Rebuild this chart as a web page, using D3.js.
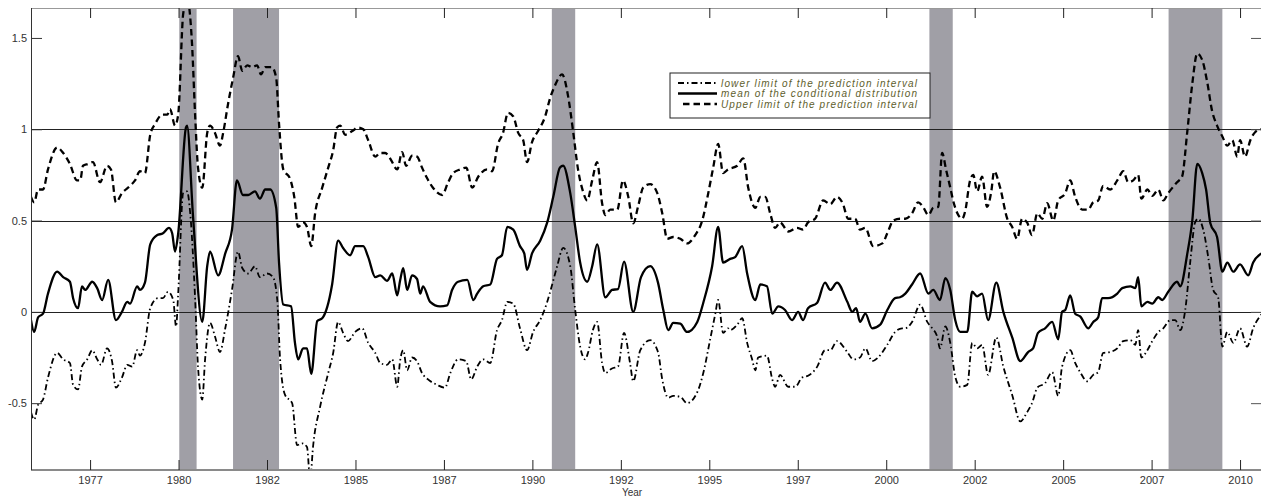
<!DOCTYPE html>
<html>
<head>
<meta charset="utf-8">
<script src="https://cdn.jsdelivr.net/npm/d3@7"></script>
<style>
  body { margin: 0; background: #fff; }
  text { font-family: "Liberation Sans", Arial, sans-serif; }
</style>
</head>
<body>
<div></div>
<script>
var width = 1261, height = 498;

// recession periods (decimal years)
var recessions = [[1980.02, 1980.51], [1981.54, 1982.84], [1990.55, 1991.21], [2001.22, 2001.88], [2007.98, 2009.50]];

// tick positions and labels
var xTicks = [1977.5, 1980, 1982.5, 1985, 1987.5, 1990, 1992.5, 1995, 1997.5, 2000, 2002.5, 2005, 2007.5, 2010];
var xTickLabels = ["1977", "1980", "1982", "1985", "1987", "1990", "1992", "1995", "1997", "2000", "2002", "2005", "2007", "2010"];
var yTicks = [-0.5, 0, 0.5, 1, 1.5];
var yTickLabels = ["-0.5", "0", "0.5", "1", "1.5"];
var gridValues = [0, 0.5, 1];

var legendLabels = ["lower limit of the prediction interval", "mean of the conditional distribution", "Upper limit of the prediction interval"];

// mean of the conditional distribution [year, value]
var meanSeries = [[1975.83,-0.045],[1975.92,-0.11],[1976.03,-0.03],[1976.17,-0.01],[1976.31,0.10],[1976.57,0.22],[1976.74,0.19],[1976.93,0.165],[1977.02,0.075],[1977.16,0.02],[1977.27,0.14],[1977.36,0.12],[1977.56,0.165],[1977.70,0.13],[1977.84,0.065],[1978.01,0.175],[1978.23,-0.045],[1978.40,0.0],[1978.55,0.055],[1978.63,0.045],[1978.83,0.14],[1978.91,0.12],[1979.05,0.16],[1979.20,0.37],[1979.39,0.42],[1979.56,0.43],[1979.73,0.46],[1979.82,0.43],[1979.90,0.33],[1979.99,0.43],[1980.21,1.01],[1980.24,1.02],[1980.41,0.52],[1980.67,-0.055],[1980.81,0.25],[1980.89,0.33],[1981.12,0.20],[1981.32,0.32],[1981.51,0.45],[1981.65,0.72],[1981.82,0.64],[1981.97,0.64],[1982.16,0.66],[1982.30,0.62],[1982.45,0.67],[1982.59,0.67],[1982.76,0.57],[1982.84,0.27],[1982.96,0.04],[1983.18,0.03],[1983.29,-0.17],[1983.38,-0.26],[1983.52,-0.20],[1983.63,-0.20],[1983.75,-0.34],[1983.92,-0.05],[1984.06,-0.035],[1984.34,0.15],[1984.51,0.39],[1984.65,0.35],[1984.85,0.31],[1984.99,0.36],[1985.22,0.36],[1985.36,0.30],[1985.56,0.19],[1985.70,0.20],[1985.89,0.17],[1986.04,0.21],[1986.18,0.09],[1986.26,0.17],[1986.35,0.24],[1986.46,0.12],[1986.60,0.20],[1986.74,0.18],[1986.83,0.10],[1986.91,0.14],[1987.11,0.055],[1987.39,0.03],[1987.59,0.035],[1987.73,0.12],[1987.90,0.165],[1988.16,0.175],[1988.33,0.065],[1988.44,0.10],[1988.61,0.14],[1988.81,0.15],[1989.00,0.29],[1989.14,0.31],[1989.29,0.465],[1989.46,0.45],[1989.65,0.36],[1989.77,0.32],[1989.85,0.23],[1989.99,0.32],[1990.22,0.39],[1990.42,0.49],[1990.59,0.63],[1990.78,0.79],[1990.87,0.80],[1991.07,0.65],[1991.21,0.465],[1991.35,0.27],[1991.55,0.165],[1991.69,0.25],[1991.83,0.37],[1992.06,0.08],[1992.25,0.12],[1992.42,0.125],[1992.59,0.275],[1992.85,0.0],[1993.07,0.19],[1993.33,0.25],[1993.55,0.16],[1993.70,0.01],[1993.84,-0.10],[1993.98,-0.06],[1994.18,-0.065],[1994.37,-0.11],[1994.66,-0.055],[1994.83,0.05],[1995.08,0.25],[1995.25,0.465],[1995.39,0.27],[1995.59,0.29],[1995.73,0.30],[1995.93,0.36],[1996.07,0.21],[1996.30,0.065],[1996.44,0.15],[1996.63,0.14],[1996.78,-0.01],[1996.95,0.03],[1997.14,0.01],[1997.34,-0.045],[1997.51,0.0],[1997.65,-0.045],[1997.79,0.02],[1998.05,0.05],[1998.27,0.16],[1998.42,0.12],[1998.61,0.16],[1998.90,0.055],[1999.04,0.0],[1999.15,0.02],[1999.26,-0.055],[1999.41,-0.01],[1999.60,-0.09],[1999.83,-0.07],[2000.03,0.01],[2000.25,0.075],[2000.39,0.08],[2000.54,0.10],[2000.73,0.15],[2000.96,0.21],[2001.19,0.10],[2001.33,0.12],[2001.52,0.065],[2001.67,0.185],[2001.81,0.12],[2001.95,-0.045],[2002.09,-0.11],[2002.29,-0.11],[2002.43,0.11],[2002.57,0.085],[2002.71,0.10],[2002.88,-0.045],[2003.11,0.16],[2003.31,0.0],[2003.56,-0.14],[2003.79,-0.27],[2004.01,-0.22],[2004.15,-0.20],[2004.29,-0.115],[2004.49,-0.09],[2004.69,-0.055],[2004.86,-0.15],[2004.97,0.0],[2005.06,0.01],[2005.20,0.09],[2005.34,-0.01],[2005.48,-0.025],[2005.71,-0.09],[2005.85,-0.055],[2005.99,-0.03],[2006.10,0.075],[2006.27,0.075],[2006.53,0.10],[2006.67,0.13],[2006.90,0.14],[2007.04,0.13],[2007.12,0.19],[2007.21,0.03],[2007.38,0.055],[2007.52,0.045],[2007.69,0.08],[2007.80,0.065],[2007.97,0.11],[2008.22,0.165],[2008.31,0.14],[2008.51,0.32],[2008.65,0.50],[2008.79,0.81],[2008.93,0.76],[2009.04,0.67],[2009.16,0.485],[2009.35,0.41],[2009.50,0.22],[2009.64,0.27],[2009.81,0.22],[2010.00,0.26],[2010.23,0.20],[2010.37,0.27],[2010.60,0.32]];

// upper limit of the prediction interval
var upperSeries = [[1975.83,0.63],[1975.92,0.60],[1976.03,0.67],[1976.17,0.67],[1976.31,0.78],[1976.57,0.90],[1976.74,0.87],[1976.93,0.81],[1977.13,0.72],[1977.22,0.72],[1977.30,0.80],[1977.44,0.81],[1977.58,0.82],[1977.78,0.71],[1977.98,0.80],[1978.09,0.78],[1978.23,0.60],[1978.40,0.65],[1978.63,0.69],[1978.77,0.72],[1978.91,0.77],[1979.05,0.76],[1979.20,0.97],[1979.34,1.03],[1979.54,1.08],[1979.68,1.08],[1979.76,1.11],[1979.90,1.02],[1979.99,1.08],[1980.13,1.63],[1980.24,1.72],[1980.38,1.47],[1980.47,1.07],[1980.55,0.79],[1980.67,0.68],[1980.81,0.98],[1980.89,1.02],[1981.03,0.98],[1981.17,0.91],[1981.26,0.98],[1981.40,1.14],[1981.54,1.28],[1981.68,1.40],[1981.80,1.32],[1981.94,1.35],[1982.08,1.34],[1982.22,1.35],[1982.33,1.30],[1982.45,1.34],[1982.64,1.34],[1982.76,1.28],[1982.84,1.03],[1982.96,0.78],[1983.15,0.73],[1983.27,0.63],[1983.38,0.465],[1983.52,0.49],[1983.63,0.465],[1983.75,0.36],[1983.86,0.54],[1984.06,0.68],[1984.23,0.79],[1984.37,0.885],[1984.48,1.01],[1984.57,1.02],[1984.71,0.97],[1984.91,0.99],[1985.07,1.01],[1985.22,1.0],[1985.36,0.94],[1985.56,0.85],[1985.70,0.87],[1985.84,0.87],[1985.98,0.84],[1986.18,0.78],[1986.32,0.875],[1986.43,0.80],[1986.60,0.855],[1986.74,0.85],[1986.88,0.79],[1987.03,0.73],[1987.19,0.68],[1987.45,0.64],[1987.62,0.71],[1987.76,0.76],[1987.96,0.78],[1988.13,0.79],[1988.30,0.68],[1988.47,0.74],[1988.72,0.78],[1988.86,0.77],[1989.03,0.92],[1989.17,0.98],[1989.31,1.09],[1989.46,1.07],[1989.60,0.98],[1989.74,0.94],[1989.85,0.82],[1989.99,0.93],[1990.16,0.99],[1990.36,1.07],[1990.50,1.17],[1990.64,1.24],[1990.84,1.30],[1991.01,1.18],[1991.15,0.99],[1991.29,0.78],[1991.43,0.66],[1991.55,0.61],[1991.69,0.72],[1991.83,0.82],[1991.97,0.595],[1992.06,0.53],[1992.20,0.56],[1992.40,0.56],[1992.56,0.72],[1992.71,0.63],[1992.85,0.485],[1992.99,0.58],[1993.13,0.68],[1993.33,0.70],[1993.53,0.65],[1993.67,0.54],[1993.81,0.40],[1993.98,0.41],[1994.18,0.40],[1994.37,0.375],[1994.60,0.42],[1994.80,0.50],[1994.97,0.65],[1995.11,0.79],[1995.25,0.92],[1995.39,0.76],[1995.53,0.78],[1995.79,0.80],[1995.96,0.84],[1996.10,0.68],[1996.30,0.57],[1996.44,0.63],[1996.58,0.63],[1996.72,0.54],[1996.86,0.46],[1997.00,0.49],[1997.23,0.44],[1997.48,0.46],[1997.65,0.45],[1997.79,0.49],[1997.99,0.51],[1998.22,0.61],[1998.42,0.59],[1998.61,0.63],[1998.78,0.59],[1998.92,0.51],[1999.12,0.51],[1999.26,0.45],[1999.41,0.46],[1999.63,0.36],[1999.89,0.375],[2000.03,0.43],[2000.20,0.50],[2000.39,0.51],[2000.54,0.51],[2000.73,0.54],[2000.90,0.60],[2001.04,0.575],[2001.19,0.53],[2001.33,0.57],[2001.47,0.575],[2001.58,0.87],[2001.69,0.78],[2001.81,0.68],[2001.89,0.61],[2002.01,0.54],[2002.15,0.51],[2002.23,0.55],[2002.37,0.72],[2002.46,0.75],[2002.57,0.66],[2002.71,0.74],[2002.85,0.575],[2002.97,0.66],[2003.05,0.77],[2003.22,0.68],[2003.42,0.51],[2003.56,0.465],[2003.70,0.40],[2003.84,0.51],[2003.98,0.49],[2004.12,0.42],[2004.27,0.54],[2004.41,0.51],[2004.55,0.595],[2004.72,0.50],[2004.86,0.61],[2005.06,0.65],[2005.20,0.72],[2005.34,0.63],[2005.54,0.56],[2005.71,0.56],[2005.85,0.60],[2005.99,0.61],[2006.13,0.69],[2006.33,0.67],[2006.53,0.72],[2006.70,0.77],[2006.84,0.71],[2006.98,0.72],[2007.12,0.75],[2007.21,0.62],[2007.38,0.67],[2007.52,0.635],[2007.69,0.67],[2007.83,0.61],[2007.97,0.65],[2008.22,0.71],[2008.36,0.74],[2008.51,0.99],[2008.65,1.25],[2008.79,1.415],[2008.93,1.38],[2009.07,1.26],[2009.21,1.10],[2009.35,1.02],[2009.50,0.96],[2009.64,0.91],[2009.78,0.94],[2009.92,0.85],[2010.00,0.94],[2010.14,0.85],[2010.29,0.94],[2010.43,0.985],[2010.60,1.0]];

// lower limit of the prediction interval
var lowerSeries = [[1975.83,-0.55],[1975.92,-0.59],[1976.03,-0.51],[1976.17,-0.48],[1976.31,-0.36],[1976.57,-0.225],[1976.74,-0.26],[1976.93,-0.28],[1977.02,-0.40],[1977.16,-0.425],[1977.27,-0.30],[1977.42,-0.26],[1977.56,-0.21],[1977.70,-0.26],[1977.81,-0.29],[1977.98,-0.20],[1978.12,-0.27],[1978.23,-0.415],[1978.40,-0.36],[1978.55,-0.29],[1978.69,-0.30],[1978.83,-0.21],[1978.91,-0.24],[1979.05,-0.17],[1979.20,0.02],[1979.42,0.075],[1979.56,0.075],[1979.70,0.11],[1979.85,0.065],[1979.93,-0.08],[1979.99,0.10],[1980.13,0.65],[1980.24,0.66],[1980.33,0.54],[1980.47,0.065],[1980.55,-0.30],[1980.67,-0.48],[1980.75,-0.26],[1980.89,-0.06],[1981.03,-0.135],[1981.17,-0.22],[1981.32,-0.09],[1981.51,0.12],[1981.68,0.33],[1981.80,0.24],[1981.97,0.21],[1982.16,0.25],[1982.30,0.19],[1982.50,0.21],[1982.67,0.19],[1982.79,0.065],[1982.87,-0.26],[1983.01,-0.455],[1983.21,-0.50],[1983.35,-0.73],[1983.49,-0.72],[1983.63,-0.74],[1983.72,-0.92],[1983.80,-0.74],[1984.00,-0.52],[1984.23,-0.335],[1984.37,-0.225],[1984.51,-0.055],[1984.65,-0.115],[1984.79,-0.16],[1984.99,-0.11],[1985.19,-0.09],[1985.36,-0.17],[1985.56,-0.225],[1985.70,-0.28],[1985.89,-0.29],[1986.04,-0.26],[1986.18,-0.41],[1986.26,-0.27],[1986.35,-0.21],[1986.46,-0.32],[1986.60,-0.25],[1986.74,-0.27],[1986.88,-0.335],[1987.05,-0.37],[1987.31,-0.40],[1987.53,-0.415],[1987.68,-0.335],[1987.90,-0.26],[1988.13,-0.27],[1988.27,-0.37],[1988.44,-0.30],[1988.61,-0.26],[1988.81,-0.28],[1989.00,-0.10],[1989.14,-0.045],[1989.29,0.055],[1989.46,0.045],[1989.65,-0.09],[1989.85,-0.21],[1990.02,-0.11],[1990.22,-0.045],[1990.42,0.055],[1990.56,0.15],[1990.70,0.25],[1990.87,0.35],[1991.07,0.25],[1991.21,0.01],[1991.35,-0.19],[1991.49,-0.26],[1991.57,-0.225],[1991.71,-0.10],[1991.83,-0.055],[1991.97,-0.28],[1992.06,-0.335],[1992.25,-0.31],[1992.42,-0.30],[1992.59,-0.115],[1992.76,-0.28],[1992.85,-0.38],[1993.05,-0.21],[1993.33,-0.155],[1993.55,-0.22],[1993.67,-0.37],[1993.84,-0.47],[1993.98,-0.46],[1994.18,-0.465],[1994.37,-0.50],[1994.66,-0.44],[1994.83,-0.335],[1995.02,-0.155],[1995.17,-0.01],[1995.25,0.065],[1995.39,-0.115],[1995.53,-0.09],[1995.59,-0.10],[1995.79,-0.07],[1995.93,-0.035],[1996.07,-0.17],[1996.21,-0.26],[1996.30,-0.32],[1996.38,-0.25],[1996.63,-0.24],[1996.78,-0.37],[1996.86,-0.41],[1997.00,-0.345],[1997.23,-0.41],[1997.43,-0.41],[1997.62,-0.36],[1997.79,-0.35],[1998.05,-0.30],[1998.27,-0.21],[1998.42,-0.21],[1998.61,-0.16],[1998.90,-0.22],[1999.07,-0.26],[1999.26,-0.25],[1999.41,-0.20],[1999.60,-0.27],[1999.77,-0.25],[2000.03,-0.18],[2000.25,-0.11],[2000.45,-0.09],[2000.54,-0.09],[2000.73,-0.055],[2000.96,0.04],[2001.16,-0.055],[2001.30,-0.09],[2001.44,-0.135],[2001.52,-0.20],[2001.67,-0.08],[2001.81,-0.17],[2001.95,-0.355],[2002.09,-0.41],[2002.29,-0.40],[2002.43,-0.17],[2002.57,-0.20],[2002.71,-0.18],[2002.88,-0.345],[2003.11,-0.14],[2003.31,-0.30],[2003.56,-0.455],[2003.79,-0.60],[2003.98,-0.55],[2004.12,-0.50],[2004.27,-0.415],[2004.49,-0.39],[2004.69,-0.33],[2004.86,-0.46],[2004.97,-0.30],[2005.20,-0.21],[2005.34,-0.28],[2005.48,-0.33],[2005.68,-0.38],[2005.85,-0.345],[2005.99,-0.33],[2006.13,-0.225],[2006.33,-0.22],[2006.53,-0.20],[2006.70,-0.16],[2006.90,-0.155],[2007.04,-0.18],[2007.12,-0.10],[2007.21,-0.25],[2007.38,-0.21],[2007.52,-0.16],[2007.69,-0.11],[2007.83,-0.09],[2008.03,-0.045],[2008.17,-0.045],[2008.31,-0.10],[2008.45,0.01],[2008.59,0.27],[2008.73,0.49],[2008.82,0.51],[2008.96,0.45],[2009.10,0.30],[2009.24,0.12],[2009.38,0.08],[2009.50,-0.19],[2009.64,-0.11],[2009.81,-0.17],[2010.00,-0.09],[2010.20,-0.19],[2010.37,-0.09],[2010.60,-0.015]];

var plotLeft = 31, plotRight = 1262, plotTop = 8, plotBottom = 470;

var x = d3.scaleLinear().domain([1975.83, 2010.62]).range([plotLeft, plotRight]);
var y = d3.scaleLinear().domain([-0.866, 1.664]).range([plotBottom, plotTop]);

var svg = d3.select("div").append("svg")
    .attr("width", width)
    .attr("height", height);

svg.append("clipPath").attr("id", "plot")
  .append("rect")
    .attr("x", plotLeft).attr("y", plotTop)
    .attr("width", plotRight - plotLeft).attr("height", plotBottom - plotTop);

var plot = svg.append("g").attr("clip-path", "url(#plot)");

// recession bars
plot.selectAll("rect.rec")
    .data(recessions)
  .enter().append("rect")
    .attr("class", "rec")
    .attr("x", function(d) { return x(d[0]); })
    .attr("width", function(d) { return x(d[1]) - x(d[0]); })
    .attr("y", plotTop)
    .attr("height", plotBottom - plotTop)
    .style("fill", "#a09fa6");

// horizontal reference lines
plot.selectAll("line.grid")
    .data(gridValues)
  .enter().append("line")
    .attr("x1", plotLeft).attr("x2", plotRight)
    .attr("y1", function(d) { return Math.round(y(d)) + 0.5; })
    .attr("y2", function(d) { return Math.round(y(d)) + 0.5; })
    .style("stroke", "#222")
    .style("stroke-width", 1);

var line = d3.line()
    .curve(d3.curveMonotoneX)
    .x(function(d) { return x(d[0]); })
    .y(function(d) { return y(d[1]); });

var styles = [
  { data: lowerSeries, dash: "6,3,1.5,3", w: 1.8 },
  { data: meanSeries, dash: null, w: 2.3 },
  { data: upperSeries, dash: "6.5,4", w: 2.3 }
];

plot.selectAll("path.series")
    .data(styles)
  .enter().append("path")
    .attr("class", "series")
    .attr("d", function(d) { return line(d.data); })
    .style("fill", "none")
    .style("stroke", "#000")
    .style("stroke-width", function(d) { return d.w; })
    .style("stroke-dasharray", function(d) { return d.dash; })
    .style("stroke-linejoin", "round");

// frame
svg.append("line").attr("x1", plotLeft).attr("x2", plotRight).attr("y1", plotTop + 0.5).attr("y2", plotTop + 0.5)
    .style("stroke", "#999").style("stroke-width", 1);
svg.append("line").attr("x1", plotLeft).attr("x2", plotRight).attr("y1", plotBottom).attr("y2", plotBottom)
    .style("stroke", "#8a8a8a").style("stroke-width", 2);
svg.append("line").attr("x1", plotLeft + 0.5).attr("x2", plotLeft + 0.5).attr("y1", plotTop).attr("y2", plotBottom)
    .style("stroke", "#333").style("stroke-width", 1);

// x ticks (bottom and top, inward)
var xAxisB = d3.axisBottom(x).tickValues(xTicks).tickSize(-10)
    .tickFormat(function(d, i) { return xTickLabels[i]; });
var gxb = svg.append("g").attr("transform", "translate(0," + plotBottom + ")").call(xAxisB);
gxb.select(".domain").remove();
gxb.selectAll(".tick line").style("stroke", "#222");
gxb.selectAll(".tick text").attr("y", 6).attr("dy", "0.71em")
    .style("font-size", "11px").style("fill", "#333");

var xAxisT = d3.axisTop(x).tickValues(xTicks).tickSize(-10).tickFormat("");
var gxt = svg.append("g").attr("transform", "translate(0," + plotTop + ")").call(xAxisT);
gxt.select(".domain").remove();
gxt.selectAll(".tick line").style("stroke", "#222");

// y ticks (left and right, inward)
var yAxisL = d3.axisLeft(y).tickValues(yTicks).tickSize(-11)
    .tickFormat(function(d, i) { return yTickLabels[i]; });
var gyl = svg.append("g").attr("transform", "translate(" + plotLeft + ",0)").call(yAxisL);
gyl.select(".domain").remove();
gyl.selectAll(".tick line").style("stroke", "#333");
gyl.selectAll(".tick text").attr("x", -4)
    .style("font-size", "11px").style("fill", "#333");

var yAxisR = d3.axisRight(y).tickValues(yTicks).tickSize(-11).tickFormat("");
var gyr = svg.append("g").attr("transform", "translate(" + plotRight + ",0)").call(yAxisR);
gyr.select(".domain").remove();
gyr.selectAll(".tick line").style("stroke", "#555");

svg.append("text")
    .attr("x", 632).attr("y", 496)
    .attr("text-anchor", "middle")
    .style("font-size", "10px").style("fill", "#333")
    .text("Year");

// legend
var legend = svg.append("g").attr("transform", "translate(670,73)");
legend.append("rect")
    .attr("width", 260).attr("height", 45)
    .style("fill", "#fff").style("stroke", "#222").style("stroke-width", 1);

var rows = legend.selectAll("g.row")
    .data(styles)
  .enter().append("g")
    .attr("transform", function(d, i) { return "translate(0," + (10 + i * 10.5) + ")"; });

rows.append("line")
    .attr("x1", function(d, i) { return i === 2 ? 13 : 8; }).attr("x2", 47)
    .style("stroke", "#000")
    .style("stroke-width", function(d) { return d.w; })
    .style("stroke-dasharray", function(d) { return d.dash; });

rows.append("text")
    .attr("x", 51).attr("dy", "0.35em")
    .attr("textLength", 196).attr("lengthAdjust", "spacing")
    .style("font-size", "10px").style("font-style", "italic").style("fill", "#5e5e2c")
    .text(function(d, i) { return legendLabels[i]; });
</script>
</body>
</html>
